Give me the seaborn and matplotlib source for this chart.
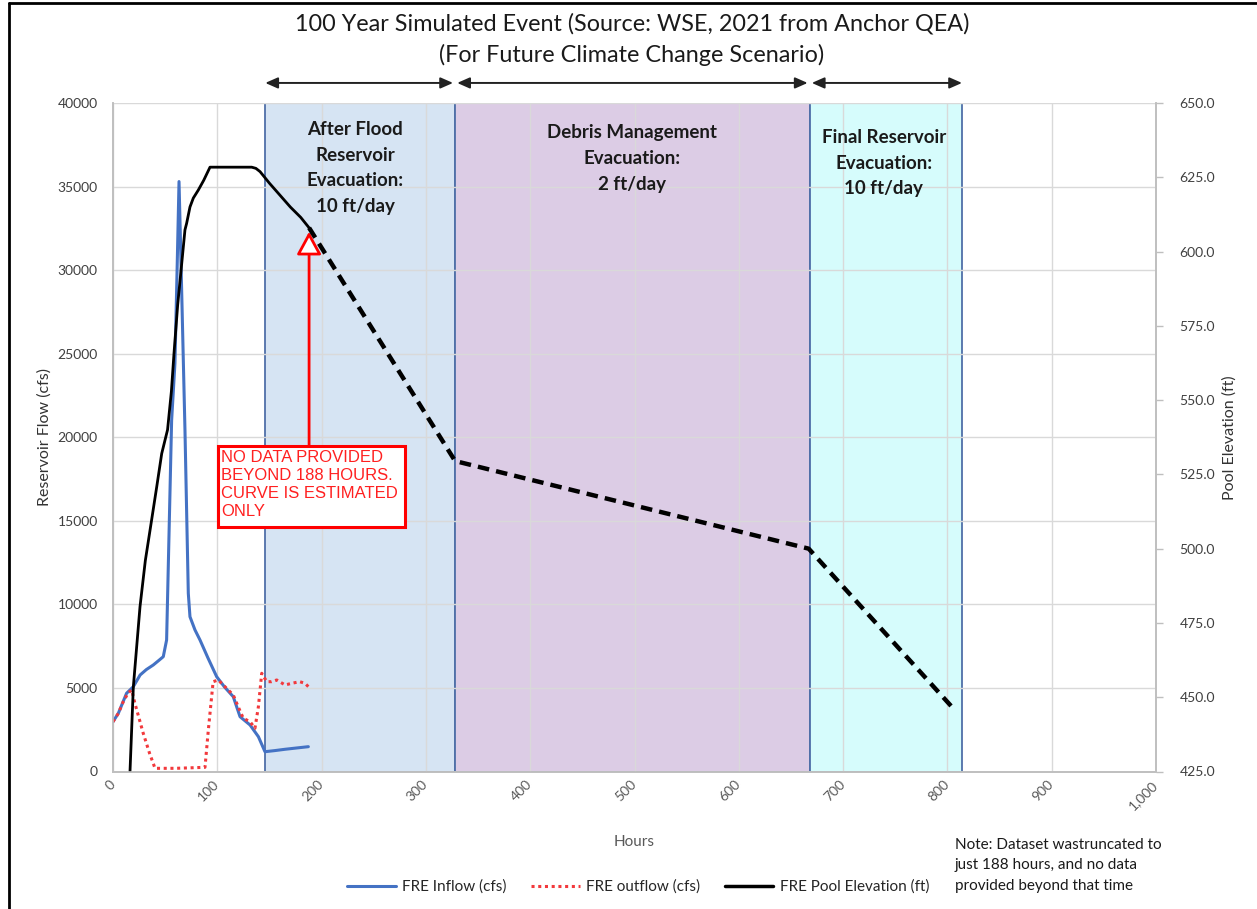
import numpy as np
import pandas as pd
import matplotlib.pyplot as plt
import seaborn as sns
from matplotlib.lines import Line2D
from matplotlib.patches import Rectangle
from matplotlib.ticker import FuncFormatter, MultipleLocator

# Werte
hours_in = [0, 5.1, 13, 19.5, 26, 32, 38.6, 44, 48.2, 51.4, 53, 56.2, 59.4, 61.6, 63.3,
            65.2, 69, 72.2, 73.8, 78.6, 83.4, 91, 99.4, 107, 115.3, 121.8, 131.4,
            139.4, 145.7, 155, 165, 175, 187.3]
inflow_cfs = [2980, 3480, 4680, 5075, 5775, 6100, 6373, 6650, 6870, 7870, 12250, 21000,
              24440, 30430, 35300, 30430, 20430, 10660, 9260, 8470, 7870, 6800, 5673,
              5050, 4476, 3280, 2783, 2083, 1185, 1250, 1330, 1400, 1485]

hours_out = [0, 5.1, 10, 14.5, 17.9, 21, 29, 35, 40.3, 60, 88.2, 91.4, 96, 100.9, 105.7,
             115.3, 120, 124.9, 131.4, 136.1, 139.4, 141, 142.6, 147.4, 152, 157, 165,
             171.2, 179, 184.1, 187.3]
outflow_cfs = [2980, 3480, 4200, 4700, 4880, 4080, 2285, 1100, 190, 190, 250, 2480, 5374,
               5475, 5176, 4578, 3878, 3184, 2980, 2585, 3878, 4880, 5877, 5374, 5374,
               5475, 5176, 5276, 5374, 5276, 5075]

hours_pool = [16.3, 19.5, 25.9, 31, 37, 42, 46.7, 52.3, 56, 58.5, 62, 65.2, 69, 70.6, 73.8,
              77, 81.8, 87, 93, 110, 125, 133, 137, 141, 150, 160, 170, 180, 188]
pool_ft = [425, 453.5, 480.5, 496, 509.6, 521, 532, 540, 553, 565.8, 582, 593.5, 607.3,
           609.5, 615, 618, 620.7, 624, 628.4, 628.4, 628.4, 628.4, 628, 626.9, 623, 619,
           615, 611.5, 608]

# geschaetzter Verlauf nach 188 h
hours_est = [188, 328, 667, 807]
pool_est_ft = [608, 529.5, 500, 445.7]

phase_edges = [146, 328, 668, 814]
phase_colors = ['#D6E4F3', '#DCCCE5', '#D6FCFC']
phase_labels = ["After Flood\nReservoir\nEvacuation:\n10 ft/day",
                "Debris Management\nEvacuation:\n2 ft/day",
                "Final Reservoir\nEvacuation:\n10 ft/day"]
phase_label_x = [232, 498, 739]
phase_label_y = [0.973, 0.968, 0.961]

df_in = pd.DataFrame({'hours': hours_in, 'cfs': inflow_cfs})
df_out = pd.DataFrame({'hours': hours_out, 'cfs': outflow_cfs})
df_pool = pd.DataFrame({'hours': hours_pool, 'ft': pool_ft})
df_est = pd.DataFrame({'hours': hours_est, 'ft': pool_est_ft})

sns.set_style('white')
plt.rcParams['font.family'] = ['Lato', 'DejaVu Sans']

fig = plt.figure(figsize=(12.57, 9.09), dpi=100)
ax = fig.add_axes([113 / 1257, 1 - 771.5 / 909, (1156 - 113) / 1257, (771.5 - 103) / 909])
ax2 = ax.twinx()

# Phasen-Bereiche
for i in range(3):
    ax.axvspan(phase_edges[i], phase_edges[i + 1], facecolor=phase_colors[i],
               edgecolor='#4F6FA8', lw=1.3, zorder=1)
    ax.text(phase_label_x[i], phase_label_y[i], phase_labels[i], transform=ax.get_xaxis_transform(),
            ha='center', va='top', fontsize=13.5, fontweight='bold', color='#1A1A1A',
            linespacing=1.62, zorder=3)
    ax.annotate('', xy=(phase_edges[i + 1] - (2 if i < 2 else 0), 1.03),
                xytext=(phase_edges[i] + (0 if i == 0 else 2), 1.03),
                xycoords=ax.get_xaxis_transform(), textcoords=ax.get_xaxis_transform(),
                arrowprops=dict(arrowstyle='<|-|>,head_length=0.5,head_width=0.22',
                                color='#222222', lw=1.4, shrinkA=0, shrinkB=0,
                                mutation_scale=15),
                annotation_clip=False)

ax.set_axisbelow('line')
ax.grid(True, color='#D9D9D9', lw=1)

sns.lineplot(data=df_in, x='hours', y='cfs', ax=ax, color='#4472C4', lw=2.2,
             sort=False, estimator=None, zorder=4)
sns.lineplot(data=df_out, x='hours', y='cfs', ax=ax, color='#F2393C', lw=2.2,
             sort=False, estimator=None, zorder=4, dashes=False)
ax.lines[-1].set_linestyle((0, (1, 1.2)))
sns.lineplot(data=df_pool, x='hours', y='ft', ax=ax2, color='black', lw=2,
             sort=False, estimator=None)
sns.lineplot(data=df_est, x='hours', y='ft', ax=ax2, color='black', lw=3.2,
             sort=False, estimator=None)
ax2.lines[-1].set_linestyle((0, (2.6, 1.6)))

# Hinweisbox
ax.add_patch(Rectangle((101, 14630), 179, 4850, facecolor='white', edgecolor='#FF0000',
                       lw=2.2, zorder=5))
ax.text(103.5, 19250, "NO DATA PROVIDED\nBEYOND 188 HOURS.\nCURVE IS ESTIMATED\nONLY",
        ha='left', va='top', color='#FF2020', fontsize=12, family='Liberation Sans',
        linespacing=1.25, zorder=6)
ax.annotate('', xy=(188, 32300), xytext=(188, 19480),
            arrowprops=dict(arrowstyle='-|>,head_length=0.7,head_width=0.38',
                            fc='white', ec='#FF0000', lw=2, shrinkA=0, shrinkB=0,
                            mutation_scale=20), zorder=6)

ax.set_xlim(0, 1000)
ax.set_ylim(0, 40000)
ax2.set_ylim(425, 650)
ax.xaxis.set_major_locator(MultipleLocator(100))
ax.yaxis.set_major_locator(MultipleLocator(5000))
ax2.yaxis.set_major_locator(MultipleLocator(25))
ax.xaxis.set_major_formatter(FuncFormatter(lambda v, p: f'{v:,.0f}'))
ax2.yaxis.set_major_formatter(FuncFormatter(lambda v, p: f'{v:.1f}'))

ax.tick_params(axis='x', length=0, pad=8, labelsize=10, labelcolor='#595959')
for lab in ax.get_xticklabels():
    lab.set_rotation(45)
    lab.set_ha('right')
    lab.set_va('center')
    lab.set_rotation_mode('anchor')
ax.tick_params(axis='y', length=0, pad=11, labelsize=10, labelcolor='#404040')
ax2.tick_params(axis='y', length=5, width=1, color='#BFBFBF', pad=12, labelsize=10,
                labelcolor='#404040')

for a in (ax, ax2):
    a.spines['top'].set_visible(False)
    for s in ('left', 'right', 'bottom'):
        a.spines[s].set_color('#BFBFBF')
        a.spines[s].set_linewidth(1.2)
ax2.grid(False)

ax.set_xlabel('Hours', fontsize=11, color='#595959', labelpad=17)
ax.set_ylabel('Reservoir Flow (cfs)', fontsize=11.5, color='#333333', labelpad=4)
ax2.set_ylabel('Pool Elevation (ft)', fontsize=11.5, color='#333333', labelpad=5)

fig.text(632 / 1257, 1 - 24 / 909, '100 Year Simulated Event (Source: WSE, 2021 from Anchor QEA)',
         ha='center', va='center', fontsize=16.8, color='#1A1A1A')
fig.text(632 / 1257, 1 - 55 / 909, '(For Future Climate Change Scenario)',
         ha='center', va='center', fontsize=16.8, color='#1A1A1A')

handles = [Line2D([], [], color='#4472C4', lw=2.2),
           Line2D([], [], color='#F2393C', lw=2.2, ls=(0, (1, 1.2))),
           Line2D([], [], color='black', lw=2.5)]
fig.legend(handles, ['FRE Inflow (cfs)', 'FRE outflow (cfs)', 'FRE Pool Elevation (ft)'],
           loc='center', bbox_to_anchor=(638 / 1257, 1 - 887 / 909), ncol=3, frameon=False,
           fontsize=11, handlelength=3.2, handletextpad=0.4, columnspacing=1.6)

fig.text(955 / 1257, 1 - 838 / 909,
         'Note: Dataset wastruncated to\njust 188 hours, and no data\nprovided beyond that time',
         ha='left', va='top', fontsize=11, color='#1A1A1A', linespacing=1.58)

# Rahmen links und oben
fig.add_artist(Line2D([9 / 1257, 9 / 1257], [0, 1 - 3 / 909], color='black', lw=2,
                      transform=fig.transFigure))
fig.add_artist(Line2D([9 / 1257, 1], [1 - 3 / 909, 1 - 3 / 909], color='black', lw=2,
                      transform=fig.transFigure))

fig.savefig('out.png', dpi=100)
